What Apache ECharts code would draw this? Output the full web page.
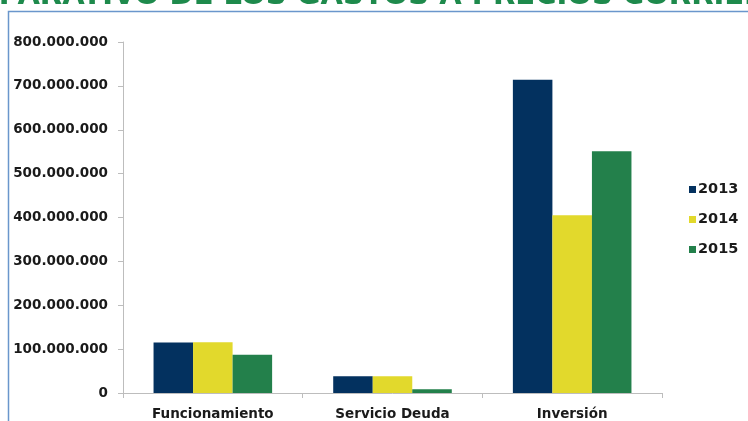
<!DOCTYPE html>
<html>
<head>
<meta charset="utf-8">
<script src="https://cdn.jsdelivr.net/npm/echarts@6/dist/echarts.min.js"></script>
<style>
  html, body { margin: 0; padding: 0; background: #ffffff; }
  #chart { width: 748px; height: 421px; }
</style>
</head>
<body>
<div id="chart"></div>
<script>
// Gastos por tipo y año (pesos corrientes)
const categories = ['Funcionamiento', 'Servicio Deuda', 'Inversión'];
const years = ['2013', '2014', '2015'];
const gastos2013 = [115000000, 38000000, 714000000];
const gastos2014 = [115500000, 38000000, 405000000];
const gastos2015 = [87000000, 8500000, 551000000];
const yTicks = [0, 100000000, 200000000, 300000000, 400000000, 500000000, 600000000, 700000000, 800000000];
const titleText = 'COMPARATIVO DE LOS GASTOS A PRECIOS CORRIENTES';

const colors = ['#03315f', '#e2d92c', '#23804b'];
const FONT = '"DejaVu Sans", Verdana, sans-serif';

function fmtMiles(v) {
  return String(Math.round(v)).replace(/\B(?=(\d{3})+(?!\d))/g, '.');
}

const chart = echarts.init(document.getElementById('chart'), null, { renderer: 'canvas' });

const seriesValues = [gastos2013, gastos2014, gastos2015];

chart.setOption({
  animation: false,
  backgroundColor: '#ffffff',
  color: colors,
  textStyle: { fontFamily: FONT },
  // heading sits mostly above the page; only the lower part of the letters shows
  title: {
    text: titleText,
    left: -76,
    top: -18,
    padding: 0,
    textStyle: { fontFamily: FONT, fontWeight: 'bold', fontSize: 29, lineHeight: 29, color: '#1e8a4c' }
  },
  graphic: [
    {
      type: 'polyline',
      shape: { points: [[8.5, 421], [8.5, 11.5], [748, 11.5]] },
      style: { stroke: '#6a96cc', lineWidth: 1.5, fill: null },
      z: 10
    }
  ],
  grid: { left: 123, right: 86, top: 42, bottom: 27, containLabel: false },
  legend: {
    orient: 'vertical',
    left: 689,
    top: 181,
    itemWidth: 7,
    itemHeight: 7,
    itemGap: 13,
    icon: 'rect',
    padding: [0, 0, 0, 0],
    data: years,
    textStyle: { fontFamily: FONT, fontWeight: 'bold', fontSize: 14.5, color: '#1a1a1a', lineHeight: 17, padding: [0, 0, 0, -3] }
  },
  xAxis: {
    type: 'category',
    data: categories,
    boundaryGap: true,
    axisLine: { lineStyle: { color: '#bdbdbd', width: 1 } },
    axisTick: { show: true, length: 5, lineStyle: { color: '#bdbdbd' } },
    axisLabel: { fontFamily: FONT, fontWeight: 'bold', fontSize: 13.5, color: '#1a1a1a', margin: 14 }
  },
  yAxis: {
    type: 'value',
    min: yTicks[0],
    max: yTicks[yTicks.length - 1],
    interval: yTicks[1] - yTicks[0],
    splitLine: { show: false },
    axisLine: { show: true, lineStyle: { color: '#bdbdbd', width: 1 } },
    axisTick: { show: true, length: 5, lineStyle: { color: '#bdbdbd' } },
    axisLabel: {
      fontFamily: FONT, fontWeight: 'bold', fontSize: 13.5, color: '#1a1a1a', margin: 15,
      formatter: fmtMiles
    }
  },
  series: years.map((y, i) => ({
    name: y,
    type: 'bar',
    data: seriesValues[i],
    barGap: '0%',
    barCategoryGap: '34%',
    itemStyle: { color: colors[i] }
  }))
});
</script>
</body>
</html>
